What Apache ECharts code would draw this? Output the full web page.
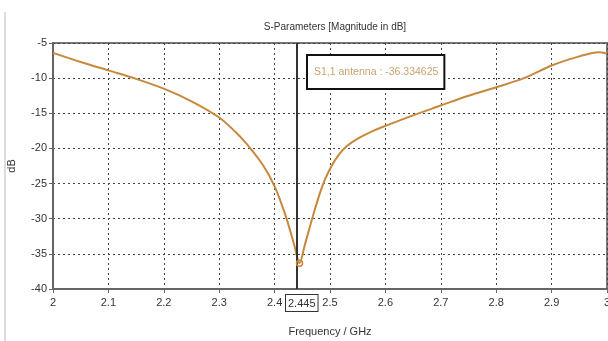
<!DOCTYPE html>
<html><head><meta charset="utf-8">
<script src="https://cdn.jsdelivr.net/npm/echarts@6/dist/echarts.min.js"></script>
<style>html,body{margin:0;padding:0;background:#fff}#c{width:608px;height:341px}</style>
</head><body><div id="c"></div>
<script>
var freq = [2.00,2.05,2.10,2.15,2.20,2.25,2.30,2.33,2.35,2.38,2.40,2.42,2.435,2.445,2.455,2.47,2.485,2.50,2.515,2.53,2.55,2.575,2.60,2.65,2.70,2.75,2.80,2.85,2.90,2.95,2.985,3.00];
var s11  = [-6.4,-7.7,-8.9,-10.1,-11.5,-13.3,-15.6,-17.7,-19.4,-22.5,-25.4,-29.6,-33.6,-36.33,-33.6,-29.4,-25.6,-22.9,-21.0,-19.7,-18.6,-17.6,-16.8,-15.3,-13.9,-12.5,-11.3,-10.0,-8.2,-6.9,-6.3,-6.5];
var markerX = 2.445;
var markerVal = -36.334625;
var seriesName = 'S1,1 antenna';
var fnt = 'Liberation Sans';

var chart = echarts.init(document.getElementById('c'), null, {renderer:'canvas'});
chart.setOption({
  animation:false,
  title:{text:'S-Parameters [Magnitude in dB]', left:330, top:17, textAlign:'center',
    textStyle:{fontFamily:fnt, fontSize:10, fontWeight:'normal', color:'#333'}},
  grid:{left:53, right:1, top:43, bottom:52, outerBoundsMode:'none', containLabel:false,
    show:true, borderColor:'#777', borderWidth:2},
  xAxis:{type:'value', min:2, max:3, interval:0.1,
    name:'Frequency / GHz', nameLocation:'middle', nameGap:37,
    nameTextStyle:{fontFamily:fnt, fontSize:11, color:'#333'},
    axisLine:{lineStyle:{color:'#666', width:2}},
    axisTick:{show:true, length:4, lineStyle:{color:'#666'}},
    axisLabel:{fontFamily:fnt, fontSize:11, color:'#333', margin:8,
      formatter:function(v){return String(Math.round(v*10)/10);}},
    splitLine:{show:true, lineStyle:{type:[2,3], color:'#444', width:1}}},
  yAxis:{type:'value', min:-40, max:-5, interval:5,
    name:'dB', nameLocation:'middle', nameGap:36, nameRotate:90,
    nameTextStyle:{fontFamily:fnt, fontSize:11, color:'#333'},
    axisLine:{show:true, lineStyle:{color:'#666', width:2}},
    axisTick:{show:true, length:4, lineStyle:{color:'#666'}},
    axisLabel:{fontFamily:fnt, fontSize:11, color:'#333', margin:6},
    splitLine:{show:true, lineStyle:{type:[2,3], color:'#444', width:1}}},
  series:[{type:'line', name:seriesName, data:freq.map(function(f,i){return [f,s11[i]];}),
    smooth:0.3, symbol:'none', lineStyle:{color:'#c8883c', width:2},
    markLine:{silent:true, symbol:'none', label:{show:false},
      lineStyle:{color:'#333', width:2, type:'solid'}, data:[{xAxis:markerX}]},
    markPoint:{symbol:'circle', symbolSize:6, label:{show:false},
      itemStyle:{color:'rgba(0,0,0,0)', borderColor:'#c8883c', borderWidth:1.5},
      data:[{coord:[markerX, markerVal]}]}
  }],
  graphic:[
    {type:'line', z:100, shape:{x1:5,y1:12,x2:5,y2:341}, style:{stroke:'#bbb', lineWidth:1}},
    {type:'text', z:100, left:306, top:54, style:{text:seriesName+' : '+markerVal, fontFamily:fnt, fontSize:10.5,
      fill:'#c9a16e', backgroundColor:'#fff', borderColor:'#111', borderWidth:2, padding:[11,5,10,6]}},
    {type:'text', z:100, left:285, top:294, style:{text:String(markerX), fontFamily:fnt, fontSize:11,
      fill:'#333', backgroundColor:'#fff', borderColor:'#333', borderWidth:1, padding:[3,2,2,2]}}
  ]
});
</script></body></html>
